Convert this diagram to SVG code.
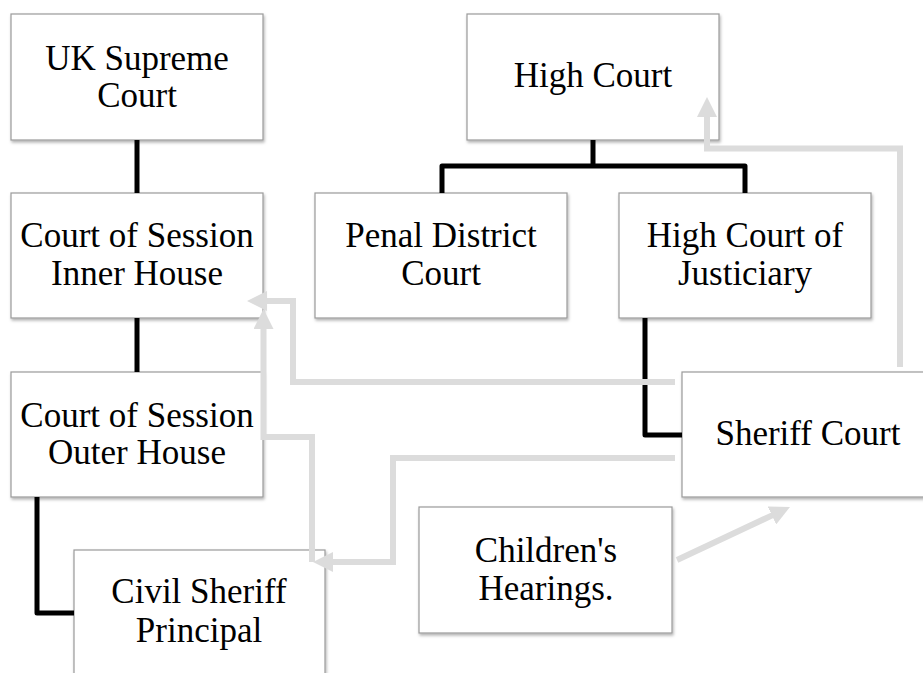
<svg xmlns="http://www.w3.org/2000/svg" width="923" height="673" viewBox="0 0 923 673">
<style>
.box{fill:#fff;stroke:#9a9a9a;stroke-width:1.2;filter:url(#sh)}
.t{font-family:"Liberation Serif","Times New Roman",serif;font-size:35px;fill:#000;text-anchor:middle}
.blk{fill:none;stroke:#000;stroke-width:5;stroke-linejoin:round}
.gry{fill:none;stroke:#dcdcdc;stroke-width:6;marker-end:url(#ga)}
</style>
<defs>
<filter id="sh" x="-5%" y="-5%" width="115%" height="120%">
<feDropShadow dx="1" dy="2" stdDeviation="1.5" flood-color="#000" flood-opacity="0.3"/>
</filter>
<marker id="ga" markerUnits="userSpaceOnUse" markerWidth="20" markerHeight="20" viewBox="0 0 20 20" refX="2" refY="10" orient="auto">
<path d="M0,0 L20,10 L0,20 z" fill="#dcdcdc"/>
</marker>
</defs>
<rect width="923" height="673" fill="#fff"/>
<g id="n1"><rect class="box" x="11" y="14" width="252" height="126"/><text class="t" x="137" y="70">UK Supreme</text><text class="t" x="137" y="107">Court</text></g>
<g id="n2"><rect class="box" x="467" y="14" width="252" height="126"/><text class="t" x="593" y="87">High Court</text></g>
<g id="n3"><rect class="box" x="11" y="193" width="252" height="125"/><text class="t" x="137" y="247">Court of Session</text><text class="t" x="137" y="285">Inner House</text></g>
<g id="n4"><rect class="box" x="315" y="193" width="252" height="125"/><text class="t" x="441" y="247">Penal District</text><text class="t" x="441" y="285">Court</text></g>
<g id="n5"><rect class="box" x="619" y="193" width="252" height="125"/><text class="t" x="745" y="247">High Court of</text><text class="t" x="745" y="285">Justiciary</text></g>
<g id="n6"><rect class="box" x="11" y="372" width="252" height="125"/><text class="t" x="137" y="427">Court of Session</text><text class="t" x="137" y="464">Outer House</text></g>
<g id="n7"><rect class="box" x="682" y="372" width="252" height="125"/><text class="t" x="808" y="445">Sheriff Court</text></g>
<g id="n8"><rect class="box" x="419" y="507" width="253" height="126"/><text class="t" x="546" y="562">Children's</text><text class="t" x="546" y="600">Hearings.</text></g>
<g id="n9"><rect class="box" x="74" y="550" width="251" height="126"/><text class="t" x="199" y="603">Civil Sheriff</text><text class="t" x="199" y="642">Principal</text></g>
<g id="connectors">
<path class="blk" d="M137,140 V193"/>
<path class="blk" d="M137,318 V372"/>
<path class="blk" d="M593,140 V166"/>
<path class="blk" d="M442,193 V166 H745 V193"/>
<path class="blk" d="M645,318 V435 H682"/>
<path class="blk" d="M37,497 V613 H74"/>
<path class="gry" d="M900,367 V148.5 H707 V115"/>
<path class="gry" d="M675,382 H293 V301 H265"/>
<path class="gry" d="M675,458 H393 V562 H331"/>
<path class="gry" d="M312,562 V437 H263.5 V327"/>
<path class="gry" d="M677,560 L773.7,514.6"/>
</g>
</svg>
